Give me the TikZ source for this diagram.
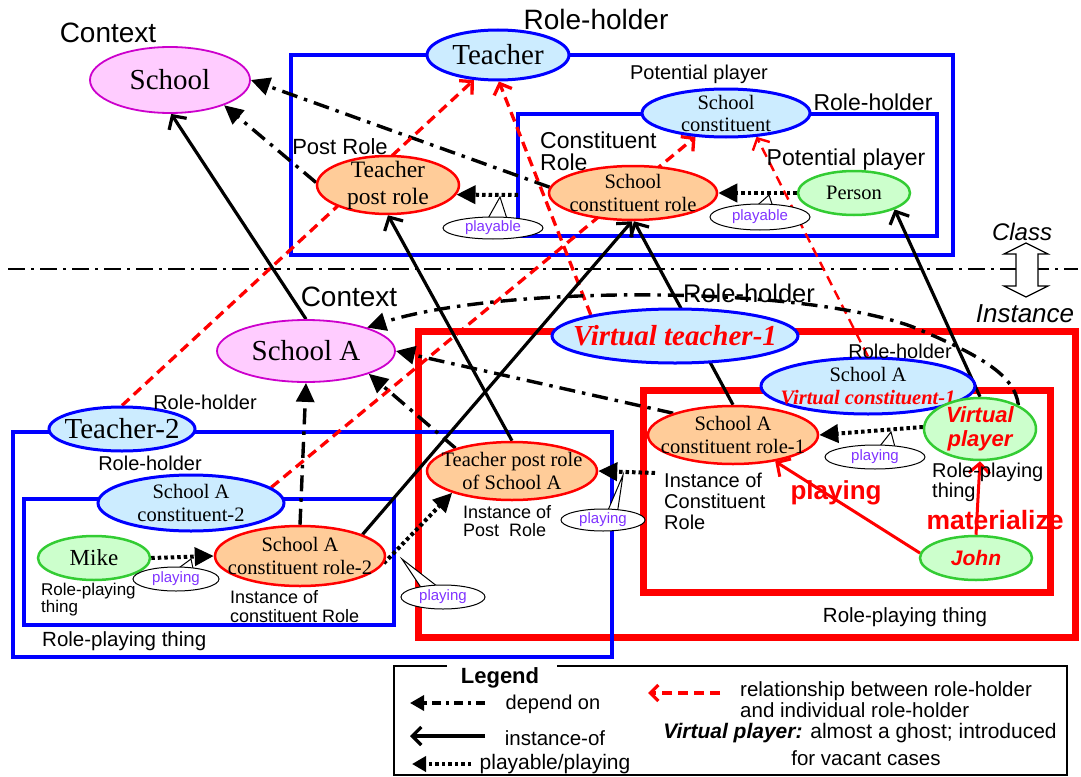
\documentclass[tikz,border=0pt]{standalone}
\usepackage{fontspec}
\setmainfont{Liberation Serif}
\setsansfont{Liberation Sans}
\usetikzlibrary{shapes.geometric,arrows.meta}
\definecolor{pinkf}{RGB}{255,204,255}
\definecolor{magb}{RGB}{204,0,204}
\definecolor{bluef}{RGB}{204,236,255}
\definecolor{blueb}{RGB}{0,0,255}
\definecolor{orangef}{RGB}{255,204,153}
\definecolor{greenf}{RGB}{204,255,204}
\definecolor{greenb}{RGB}{51,204,51}
\definecolor{redc}{RGB}{255,0,0}
\definecolor{violetc}{RGB}{128,51,255}
\pgfdeclarelayer{boxlayer}
\pgfdeclarelayer{linelayer}
\pgfsetlayers{boxlayer,linelayer,main}
\newcommand\myfs[2]{\fontsize{#1}{#2}\selectfont}
\begin{document}
\begin{tikzpicture}[x=1pt,y=-1pt,
  sz/.style 2 args={minimum width=#1pt, minimum height=#2pt},
  ell/.style={ellipse, draw, line width=2.5pt, inner sep=-60pt, align=center},
  pinkE/.style={ell, fill=pinkf, draw=magb, line width=1.8pt},
  blueE/.style={ell, fill=bluef, draw=blueb, line width=3pt},
  orangeE/.style={ell, fill=orangef, draw=redc},
  greenE/.style={ell, fill=greenf, draw=greenb},
  lbl/.style 2 args={inner sep=0pt, align=left, font={\sffamily\myfs{#1}{#2}}},
  callE/.style={ellipse, draw, fill=white, line width=1pt, inner sep=-30pt, text=violetc, font={\sffamily\myfs{15}{16}}},
  ptr/.style={draw, fill=white, line width=1pt, line join=miter},
  depend/.style={line width=3.4pt, dash pattern=on 16pt off 7pt on 3.5pt off 7pt, -{Triangle[length=19pt,width=18pt]}},
  inst/.style={line width=3.2pt, -{Straight Barb[length=10pt,width=21pt]}},
  play/.style={line width=4pt, dash pattern=on 3.5pt off 3pt, -{Triangle[length=19pt,width=18pt]}},
  rel/.style={line width=3.3pt, draw=redc, dash pattern=on 10pt off 6pt, -{Straight Barb[length=9pt,width=19pt]}},
  redarr/.style={line width=3pt, draw=redc, -{Straight Barb[length=10pt,width=21pt]}},
  sepline/.style={line width=2.6pt, dash pattern=on 17pt off 6pt on 3pt off 6pt}
]
\useasboundingbox (0,0) rectangle (1081,776);

% ---------- boxes ----------
\begin{pgfonlayer}{boxlayer}
\draw[blueb, line width=4pt] (291,55) rectangle (953,255);
\draw[blueb, line width=4pt] (518,114) rectangle (937,236);
\draw[redc, line width=7pt] (418,331) rectangle (1075,637);
\draw[redc, line width=7pt] (643,390) rectangle (1050,592);
\draw[blueb, line width=3.2pt] (13,432) rectangle (612,657);
\draw[blueb, line width=4pt] (24,499) rectangle (394,625);
\draw[sepline] (8,269) -- (1078,269);
\end{pgfonlayer}

% ---------- class-level nodes ----------
\node[pinkE, sz={160}{66}, font=\myfs{29}{32}] (school) at (170,80) {School};
\node[blueE, sz={142}{50}, font=\myfs{29}{32}] (teacher) at (498,55) {Teacher};
\node[blueE, sz={168}{48}, font=\myfs{20.5}{22}] (sc) at (726,113) {School\\constituent};
\node[orangeE, sz={142}{58}, font=\myfs{23.5}{27}] (tpr) at (388,185) {Teacher\\post role};
\node[orangeE, sz={168}{54}, font=\myfs{20.5}{23}] (scr) at (633,193) {School\\constituent role};
\node[greenE, sz={112}{44}, font=\myfs{20.5}{23}] (person) at (854,193) {Person};

% ---------- instance-level nodes ----------
\node[pinkE, sz={178}{62}, font=\myfs{29}{32}] (schoolA) at (306,351) {School A};
\node[blueE, sz={246}{54}, font=\myfs{29}{32}\bfseries\itshape, text=redc] (vt1) at (675,336) {Virtual teacher-1};
\node[blueE, sz={214}{56}, font=\myfs{20.5}{23}] (vc1) at (868,386) {School A\\{\color{redc}\bfseries\itshape Virtual constituent-1}};
\node[orangeE, sz={170}{58}, font=\myfs{20.5}{23}] (sacr1) at (733,435) {School A\\constituent role-1};
\node[greenE, sz={112}{62}, font=\sffamily\myfs{22}{24}\bfseries\itshape, text=redc] (vp) at (980,429) {Virtual\\player};
\node[greenE, sz={112}{44}, font=\sffamily\myfs{21}{24}\bfseries\itshape, text=redc] (john) at (976,558) {John};
\node[orangeE, sz={170}{58}, font=\myfs{20.5}{23}] (tprsa) at (512,471) {Teacher post role\\of School A};
\node[blueE, sz={146}{44}, font=\myfs{29}{32}] (t2) at (122,429) {Teacher-2};
\node[blueE, sz={186}{56}, font=\myfs{20.5}{23}] (sac2) at (191,503) {School A\\constituent-2};
\node[greenE, sz={112}{44}, font=\myfs{23}{26}] (mike) at (94,558) {Mike};
\node[orangeE, sz={170}{60}, font=\myfs{20.5}{23}] (sacr2) at (300,556) {School A\\constituent role-2};

\coordinate (ib) at (518,195);
\coordinate (ir) at (655,473);

% ---------- connectors ----------
\begin{pgfonlayer}{linelayer}
\draw[depend] (tpr.178) -- (school.335);
\draw[depend] (scr.176) -- (school.east);
\draw[play] (ib) -- (tpr.352);
\draw[play] (person.west) -- (scr.east);
\draw[rel] (t2.north) -- (teacher.226);
\draw[rel] (sac2.11) -- (sc.218);
\draw[rel] (vt1.166) -- (teacher.272);
\draw[rel, line width=2.4pt] (vc1.north) -- (sc.322);
\draw[inst] (schoolA.north) -- (school.272);
\draw[inst] (tprsa.north) -- (tpr.south);
\draw[inst] (sacr2.19) -- (scr.268);
\draw[inst] (sacr1.north) -- (scr.272);
\draw[inst] (vp.north) -- (person.338);
\draw[depend] (vp.32) .. controls (1015,375) and (980,355) .. (913,327)
   .. controls (800,285) and (500,285) .. (schoolA.21);
\draw[depend] (sacr1.160) -- (schoolA.east);
\draw[depend] (tprsa.158) -- (schoolA.340);
\draw[depend] (sacr2.north) -- (schoolA.south);
\draw[play] (mike.east) -- (sacr2.west);
\draw[play] (sacr2.355) -- (tprsa.200);
\draw[play] (ir) -- (tprsa.east);
\draw[play] (vp.178) -- (sacr1.east);
\draw[redarr] (john.175) -- (sacr1.328);
\draw[redarr] (john.north) -- (vp.south);
\end{pgfonlayer}

% ---------- callouts ----------
\path[ptr] (500,197) -- (486,222) -- (508,222) -- cycle;
\node[callE, sz={100}{22}] (cp1) at (493,228) {playable};
\path[ptr] (769,195) -- (752,210) -- (774,210) -- cycle;
\node[callE, sz={100}{26}] (cp2) at (760,217) {playable};
\path[ptr] (191,559) -- (172,573) -- (194,573) -- cycle;
\node[callE, sz={86}{24}] (cp3) at (176,579) {playing};
\path[ptr] (402,559) -- (424,592) -- (442,590) -- cycle;
\node[callE, sz={84}{24}] (cp4) at (443,597) {playing};
\path[ptr] (623,475) -- (606,515) -- (617,515) -- cycle;
\node[callE, sz={84}{22}] (cp5) at (603,520) {playing};
\path[ptr] (891,432) -- (876,451) -- (896,451) -- cycle;
\node[callE, sz={100}{24}] (cp6) at (875,457) {playing};

% ---------- labels ----------
\node[lbl={28}{30}] (l1) at (108,33) {Context};
\node[lbl={28}{30}] (l2) at (596,19) {Role-holder};
\node[lbl={20}{22}] (l3) at (699,74) {Potential player};
\node[lbl={23}{25}] (l4) at (873,102) {Role-holder};
\node[lbl={22}{24}] (l5) at (340,147) {Post Role};
\node[lbl={23}{22}, anchor=west] (l6) at (540,151) {Constituent\\Role};
\node[lbl={23}{25}] (l7) at (846,160) {Potential player};
\node[lbl={24}{26}, font={\sffamily\itshape\myfs{24}{26}}] (l8) at (1022,232) {Class};
\node[lbl={26}{28}, font={\sffamily\itshape\myfs{26}{28}}] (l9) at (1025,314) {Instance};
\node[lbl={28}{30}] (l10) at (349,297) {Context};
\node[lbl={25.5}{28}] (l11) at (749,293) {Role-holder};
\node[lbl={20}{22}] (l12) at (900,351) {Role-holder};
\node[lbl={20}{22}] (l13) at (205,402) {Role-holder};
\node[lbl={20}{22}] (l14) at (150,463) {Role-holder};
\node[lbl={17}{17}, anchor=west] (l15) at (41,600) {Role-playing\\thing};
\node[lbl={18}{19}, anchor=west] (l16) at (230,607) {Instance of\\constituent Role};
\node[lbl={20.5}{22}, anchor=west] (l17) at (42,641) {Role-playing thing};
\node[lbl={18}{17.5}, anchor=west] (l18) at (463,521) {Instance of\\Post~ Role};
\node[lbl={20}{21}, anchor=west] (l19) at (664,501) {Instance of\\Constituent\\Role};
\node[lbl={20}{20}, anchor=west] (l20) at (932,482) {Role-playing\\thing};
\node[lbl={26}{28}, font={\sffamily\bfseries\myfs{26}{28}}, text=redc] (l21) at (836,493) {playing};
\node[lbl={26.5}{28}, font={\sffamily\bfseries\myfs{26.5}{28}}, text=redc] (l22) at (995,520) {materialize};
\node[lbl={20.5}{22}] (l23) at (905,617) {Role-playing thing};

% class / instance double arrow
\draw[fill=white, line width=1.2pt, line join=miter] (1026,243) -- (1048,254) -- (1038,254) -- (1038,286) -- (1048,286)
  -- (1026,297) -- (1004,286) -- (1016,286) -- (1016,254) -- (1004,254) -- cycle;

% ---------- legend ----------
\draw[line width=1.4pt] (447,666) -- (394,666) -- (394,775) -- (1067,775) -- (1067,666) -- (557,666);
\node[lbl={22}{24}, font={\sffamily\bfseries\myfs{22}{24}}] (lg) at (500,678) {Legend};
\coordinate (la1) at (410,703); \coordinate (lb1) at (485,703);
\coordinate (la2) at (410,736); \coordinate (lb2) at (485,736);
\coordinate (la3) at (412,764); \coordinate (lb3) at (471,764);
\coordinate (la4) at (648,693); \coordinate (lb4) at (720,693);
\draw[depend, dash pattern=on 9pt off 5pt on 3pt off 5pt, -{Triangle[length=14pt,width=15pt]}] (lb1) -- (la1);
\draw[inst, -{Straight Barb[length=9pt,width=18pt]}] (lb2) -- (la2);
\draw[play, -{Triangle[length=14pt,width=15pt]}] (lb3) -- (la3);
\draw[rel, -{Straight Barb[length=8pt,width=16pt]}] (lb4) -- (la4);
\node[lbl={20}{22}] (lt1) at (553,704) {depend on};
\node[lbl={20.5}{22}] (lt2) at (555,738) {instance-of};
\node[lbl={21}{22}] (lt3) at (555,764) {playable/playing};
\node[lbl={20.5}{21}, anchor=west] (lt4) at (740,700) {relationship between role-holder\\and individual role-holder};
\node[lbl={21}{22}] (lt5) at (860,733) {{\bfseries\itshape Virtual player:} almost a ghost; introduced};
\node[lbl={20.5}{22}] (lt6) at (866,758) {for vacant cases};
\end{tikzpicture}
\end{document}
